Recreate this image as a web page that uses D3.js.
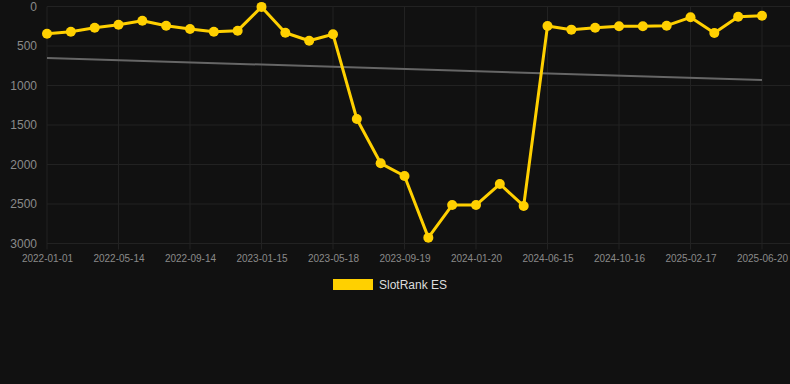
<!DOCTYPE html>
<html>
<head>
<meta charset="utf-8">
<script src="https://cdn.jsdelivr.net/npm/d3@7"></script>
<style>
  html, body { margin: 0; padding: 0; background: #111111; }
  svg { display: block; }
</style>
</head>
<body>
<svg id="chart" width="790" height="384"></svg>
<script>
const dates = [
  "2022-01-01","2022-02-14","2022-03-30","2022-05-14","2022-06-24","2022-08-04",
  "2022-09-14","2022-10-25","2022-12-05","2023-01-15","2023-02-25","2023-04-07",
  "2023-05-18","2023-06-28","2023-08-08","2023-09-19","2023-10-30","2023-12-10",
  "2024-01-20","2024-03-15","2024-05-01","2024-06-15","2024-07-26","2024-09-05",
  "2024-10-16","2024-11-26","2025-01-06","2025-02-17","2025-03-30","2025-05-10",
  "2025-06-20"
];
const rankES = [
  344, 319, 268, 230, 180, 243, 285, 319, 306, 5, 332, 433,
  352, 1424, 1985, 2146, 2926, 2513, 2513, 2247, 2525, 247, 293, 268,
  251, 251, 243, 137, 335, 129, 116
];
const trendValues = [652, 930];
const yTicks = [0, 500, 1000, 1500, 2000, 2500, 3000];
const tickDates = ["2022-01-01","2022-05-14","2022-09-14","2023-01-15","2023-05-18",
  "2023-09-19","2024-01-20","2024-06-15","2024-10-16","2025-02-17","2025-06-20"];
const seriesName = "SlotRank ES";

const svg = d3.select("#chart");
const mLeft = 47, mRight = 762, mTop = 6.5, mBottom = 243.5;

const x = d3.scalePoint().domain(dates).range([mLeft, mRight]);
const y = d3.scaleLinear().domain([0, 3000]).range([mTop, mBottom]);

// grid
const grid = svg.append("g");
grid.selectAll(".hg").data(yTicks).enter().append("line")
  .attr("x1", mLeft).attr("x2", 790)
  .attr("y1", d => y(d)).attr("y2", d => y(d))
  .attr("stroke", "#222222").attr("stroke-width", 1);
grid.selectAll(".vg").data(tickDates).enter().append("line")
  .attr("x1", d => x(d)).attr("x2", d => x(d))
  .attr("y1", mTop).attr("y2", mBottom + 6)
  .attr("stroke", "#222222").attr("stroke-width", 1);

// y axis
const yAxis = d3.axisLeft(y).tickValues(yTicks).tickFormat(d3.format("d")).tickSize(0).tickPadding(0);
const gy = svg.append("g").attr("transform", "translate(37,0)").call(yAxis);
gy.select(".domain").remove();
gy.selectAll("text").attr("fill", "#8a8a8a").attr("font-size", 12)
  .attr("font-family", "Liberation Sans, Arial, sans-serif");

// x axis
const xAxis = d3.axisBottom(x).tickValues(tickDates).tickSize(0).tickPadding(0);
const gx = svg.append("g").attr("transform", "translate(0,255)").call(xAxis);
gx.select(".domain").remove();
gx.selectAll("text").attr("fill", "#8a8a8a").attr("font-size", 10)
  .attr("font-family", "Liberation Sans, Arial, sans-serif");

// trend line
svg.append("line")
  .attr("x1", x(dates[0])).attr("x2", x(dates[dates.length - 1]))
  .attr("y1", y(trendValues[0])).attr("y2", y(trendValues[1]))
  .attr("stroke", "#666666").attr("stroke-width", 2);

// series line
const line = d3.line().x((d, i) => x(dates[i])).y(d => y(d));
svg.append("path").datum(rankES)
  .attr("d", line).attr("fill", "none")
  .attr("stroke", "#FFD000").attr("stroke-width", 3)
  .attr("stroke-linejoin", "round");

svg.selectAll(".pt").data(rankES).enter().append("circle")
  .attr("cx", (d, i) => x(dates[i])).attr("cy", d => y(d))
  .attr("r", 5).attr("fill", "#FFD000");

// legend
const lg = svg.append("g");
lg.append("rect").attr("x", 333).attr("y", 279).attr("width", 40).attr("height", 11)
  .attr("fill", "#FFD000");
lg.append("text").attr("x", 379).attr("y", 289).text(seriesName)
  .attr("fill", "#dddddd").attr("font-size", 12)
  .attr("font-family", "Liberation Sans, Arial, sans-serif");
</script>
</body>
</html>
